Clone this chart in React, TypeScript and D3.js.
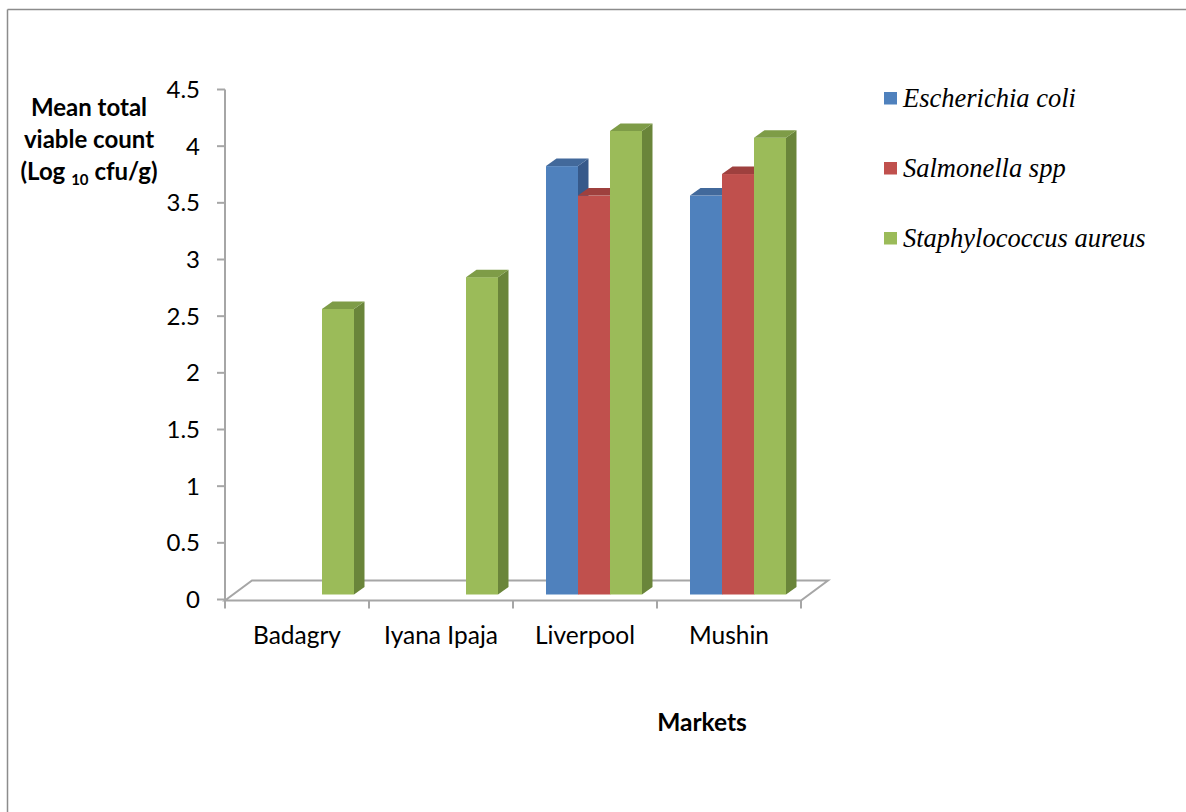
import * as d3 from "d3"

// chart data
const markets = ["Badagry", "Iyana Ipaja", "Liverpool", "Mushin"]
const seriesNames = ["Escherichia coli", "Salmonella spp", "Staphylococcus aureus"]
const ecoli = [null, null, 3.78, 3.52]
const salmonella = [null, null, 3.52, 3.71]
const staph = [2.52, 2.8, 4.09, 4.03]
const yTicks = [0, 0.5, 1, 1.5, 2, 2.5, 3, 3.5, 4, 4.5]

const seriesValues = [ecoli, salmonella, staph]
const frontColors = ["#4F81BD", "#C0504D", "#9BBB59"]
const sideColors = ["#36598A", "#8A3735", "#6A853A"]
const topColors = ["#42699B", "#9E403E", "#7E9C47"]

const W = 1186
const H = 812

export default function App() {
  const x = d3.scaleBand<string>().domain(markets).range([225, 801]).padding(0)
  const y = d3.scaleLinear().domain([0, 4.5]).range([599.5, 89.5])

  // floor / depth geometry
  const floorY = 600.5
  const floorDx = 27
  const floorDy = -20
  const barOx = 9 // front plane of bars inside the floor
  const barOy = -5
  const depthDx = 10.5
  const depthDy = -7.5
  const barW = 32

  const tickFont = "Lato, 'Open Sans', sans-serif"

  const bars: JSX.Element[] = []
  markets.forEach((m, i) => {
    const center = (x(m) as number) + x.bandwidth() / 2 + barOx
    const left0 = center - (barW * 3) / 2
    seriesValues.forEach((vals, s) => {
      const v = vals[i]
      if (v == null) return
      const x0 = left0 + s * barW
      const x1 = x0 + barW
      const yb = y(0) + barOy
      const yt = y(v) + barOy
      bars.push(
        <g key={`${m}-${s}`}>
          <rect x={x0} y={yt} width={barW} height={yb - yt} fill={frontColors[s]} />
          <polygon
            points={`${x1},${yb} ${x1 + depthDx},${yb + depthDy} ${x1 + depthDx},${yt + depthDy} ${x1},${yt}`}
            fill={sideColors[s]}
          />
          <polygon
            points={`${x0},${yt} ${x1},${yt} ${x1 + depthDx},${yt + depthDy} ${x0 + depthDx},${yt + depthDy}`}
            fill={topColors[s]}
          />
        </g>,
      )
    })
  })

  const fl = 225
  const fr = 801
  const edges = [...markets.map((m) => x(m) as number), fr]

  return (
    <svg
      width={W}
      height={H}
      style={{ position: "absolute", left: 0, top: 0, background: "#fff" }}
    >
      {/* outer frame */}
      <line x1={7.5} y1={9.5} x2={W} y2={9.5} stroke="#8c8c8c" strokeWidth={1.5} />
      <line x1={7.5} y1={9.5} x2={7.5} y2={H} stroke="#8c8c8c" strokeWidth={1.5} />

      {/* floor */}
      <polygon
        points={`${fl},${floorY} ${fr},${floorY} ${fr + floorDx},${floorY + floorDy} ${fl + floorDx},${floorY + floorDy}`}
        fill="#fff"
        stroke="#a6a6a6"
        strokeWidth={2}
      />

      {/* y axis */}
      <line x1={fl} y1={y(4.5)} x2={fl} y2={floorY} stroke="#a6a6a6" strokeWidth={2} />
      {yTicks.map((t) => (
        <g key={t}>
          <line x1={fl - 8} y1={y(t)} x2={fl} y2={y(t)} stroke="#a6a6a6" strokeWidth={2} />
          <text
            x={200}
            y={y(t)}
            dy="0.35em"
            textAnchor="end"
            fontFamily={tickFont}
            fontSize={24}
            fill="#000"
          >
            {t}
          </text>
        </g>
      ))}

      {/* category ticks and labels */}
      {edges.map((e, i) => (
        <line key={i} x1={e} y1={floorY} x2={e} y2={floorY + 8} stroke="#a6a6a6" strokeWidth={2} />
      ))}
      {markets.map((m) => (
        <text
          key={m}
          x={(x(m) as number) + x.bandwidth() / 2}
          y={644}
          textAnchor="middle"
          fontFamily={tickFont}
          fontSize={24.5}
          fill="#000"
        >
          {m}
        </text>
      ))}

      {bars}

      {/* y axis title */}
      <g fontFamily={tickFont} fontWeight="bold" fontSize={24} textAnchor="middle" fill="#000">
        <text x={89} y={116}>Mean total</text>
        <text x={89} y={148}>viable count</text>
        <text x={89} y={180}>
          (Log <tspan fontSize={15} dy={5}>10</tspan>
          <tspan dy={-5}> cfu/g)</tspan>
        </text>
      </g>

      {/* x axis title */}
      <text
        x={702}
        y={731}
        textAnchor="middle"
        fontFamily={tickFont}
        fontWeight="bold"
        fontSize={24.5}
        fill="#000"
      >
        Markets
      </text>

      {/* legend */}
      {seriesNames.map((n, i) => (
        <g key={n} transform={`translate(884,${92 + i * 70})`}>
          <rect x={0} y={0} width={13} height={12.5} fill={frontColors[i]} />
          <text
            x={19}
            y={15}
            fontFamily="'Liberation Serif', 'Times New Roman', serif"
            fontStyle="italic"
            fontSize={26.5}
            fill="#000"
          >
            {n}
          </text>
        </g>
      ))}
    </svg>
  )
}
